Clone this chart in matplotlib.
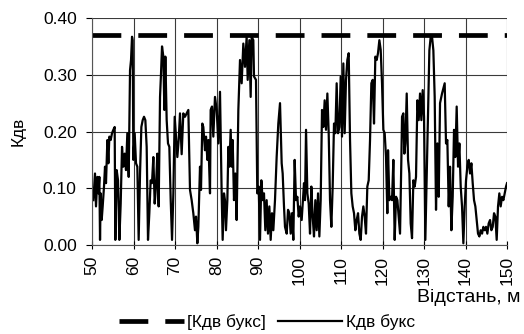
import numpy as np
import matplotlib
matplotlib.use("Agg")
import matplotlib.pyplot as plt

plt.rcParams['font.family'] = ['Liberation Sans', 'DejaVu Sans']

# ---- data ----
x_dist = [50.32, 50.72, 50.96, 51.29, 51.53, 51.77, 51.93, 52.09, 52.33, 52.57,
          52.89, 53.13, 53.37, 53.70, 53.94, 54.18, 54.50, 54.82, 55.14, 55.46,
          55.62, 55.94, 56.27, 56.59, 56.91, 57.23, 57.55, 57.87, 58.19, 58.51,
          58.84, 59.16, 59.40, 59.64, 59.80, 59.96, 60.28, 60.60, 60.92, 61.24,
          61.57, 61.89, 62.21, 62.53, 62.85, 63.17, 63.49, 63.81, 64.13, 64.45,
          64.78, 65.10, 65.42, 65.74, 66.06, 66.39, 66.63, 66.87, 67.19, 67.43,
          67.67, 67.99, 68.31, 68.63, 68.96, 69.28, 69.60, 69.92, 70.24, 70.56,
          70.88, 71.20, 71.60, 72.00, 72.40, 72.81, 73.21, 73.61, 74.01, 74.41,
          74.81, 75.06, 75.38, 75.62, 76.02, 76.26, 76.58, 76.82, 77.22, 77.47,
          77.79, 78.03, 78.43, 78.59, 78.91, 79.23, 79.63, 80.04, 80.44, 80.84,
          81.24, 81.48, 81.80, 82.04, 82.28, 82.61, 82.85, 83.09, 83.41, 83.65,
          83.89, 84.21, 84.53, 84.85, 85.26, 85.66, 86.06, 86.46, 86.86, 87.26,
          87.51, 87.91, 88.23, 88.47, 88.87, 89.03, 89.51, 89.83, 90.16, 90.48,
          90.80, 91.12, 91.44, 91.76, 92.08, 92.40, 92.73, 93.05, 93.37, 93.69,
          94.09, 94.49, 94.89, 95.30, 95.70, 95.94, 96.26, 96.50, 96.91, 97.23,
          97.55, 97.87, 98.19, 98.51, 98.83, 99.16, 99.48, 99.80, 100.12, 100.52,
          100.76, 101.08, 101.32, 101.57, 101.89, 102.21, 102.53, 102.85, 103.17, 103.49,
          103.81, 104.14, 104.46, 104.78, 105.10, 105.42, 105.74, 106.06, 106.38, 106.71,
          107.03, 107.35, 107.67, 107.99, 108.31, 108.63, 108.95, 109.28, 109.60, 109.92,
          110.24, 110.56, 110.88, 111.20, 111.52, 111.85, 112.17, 112.49, 112.81, 113.13,
          113.45, 113.77, 114.10, 114.42, 114.74, 115.06, 115.38, 115.70, 116.02, 116.34,
          116.67, 116.99, 117.31, 117.63, 117.95, 118.27, 118.59, 118.91, 119.24, 119.56,
          119.88, 120.20, 120.52, 120.84, 121.16, 121.33, 121.65, 121.97, 122.29, 122.61,
          122.93, 123.26, 123.58, 123.90, 124.22, 124.54, 124.70, 125.02, 125.26, 125.50,
          125.83, 126.15, 126.47, 126.79, 127.11, 127.43, 127.75, 128.07, 128.40, 128.72,
          129.04, 129.36, 129.68, 130.00, 130.32, 130.65, 130.97, 131.29, 131.61, 131.93,
          132.25, 132.57, 132.89, 133.22, 133.54, 133.86, 134.34, 134.66, 134.98, 135.30,
          135.62, 135.95, 136.27, 136.59, 136.91, 137.23, 137.55, 137.87, 138.20, 138.52,
          138.84, 139.16, 139.48, 139.80, 140.12, 140.44, 140.77, 141.09, 141.41, 141.73,
          142.05, 142.37, 142.69, 143.01, 143.34, 143.66, 143.98, 144.30, 144.62, 144.94,
          145.26, 145.58, 145.91, 146.23, 146.55, 146.87, 147.19, 147.51, 147.83, 148.15,
          148.47, 148.80, 149.12, 149.44, 149.76, 150.00]

k_dv = [0.079, 0.126, 0.068, 0.120, 0.091, 0.120, 0.009, 0.091, 0.044, 0.068,
        0.103, 0.138, 0.109, 0.185, 0.144, 0.191, 0.185, 0.197, 0.203, 0.208,
        0.009, 0.132, 0.114, 0.009, 0.073, 0.173, 0.138, 0.161, 0.132, 0.197,
        0.120, 0.308, 0.326, 0.367, 0.361, 0.150, 0.197, 0.144, 0.138, 0.009,
        0.126, 0.208, 0.220, 0.226, 0.220, 0.173, 0.009, 0.056, 0.114, 0.109,
        0.155, 0.073, 0.103, 0.161, 0.068, 0.261, 0.303, 0.350, 0.332, 0.238,
        0.332, 0.220, 0.179, 0.173, 0.079, 0.009, 0.091, 0.226, 0.191, 0.155,
        0.185, 0.232, 0.160, 0.232, 0.226, 0.232, 0.238, 0.097, 0.079, 0.056,
        0.026, 0.050, 0.003, 0.032, 0.138, 0.097, 0.214, 0.208, 0.167, 0.191,
        0.150, 0.185, 0.091, 0.238, 0.244, 0.191, 0.261, 0.238, 0.179, 0.270,
        0.091, 0.009, 0.091, 0.079, 0.026, 0.079, 0.173, 0.138, 0.203, 0.138,
        0.185, 0.079, 0.126, 0.044, 0.238, 0.326, 0.285, 0.355, 0.314, 0.367,
        0.291, 0.361, 0.261, 0.367, 0.361, 0.297, 0.291, 0.091, 0.103, 0.009,
        0.114, 0.079, 0.091, 0.026, 0.079, 0.020, 0.068, 0.009, 0.056, 0.026,
        0.079, 0.155, 0.214, 0.250, 0.144, 0.126, 0.068, 0.032, 0.020, 0.062,
        0.056, 0.020, 0.056, 0.009, 0.150, 0.079, 0.085, 0.050, 0.068, 0.044,
        0.073, 0.109, 0.079, 0.203, 0.091, 0.073, 0.020, 0.103, 0.050, 0.015,
        0.079, 0.026, 0.091, 0.015, 0.079, 0.238, 0.208, 0.255, 0.203, 0.267,
        0.197, 0.079, 0.032, 0.103, 0.214, 0.197, 0.285, 0.197, 0.208, 0.297,
        0.191, 0.320, 0.197, 0.291, 0.326, 0.338, 0.185, 0.091, 0.068, 0.056,
        0.026, 0.044, 0.056, 0.020, 0.009, 0.050, 0.068, 0.050, 0.020, 0.103,
        0.114, 0.185, 0.285, 0.291, 0.214, 0.332, 0.326, 0.338, 0.361, 0.344,
        0.285, 0.203, 0.197, 0.155, 0.056, 0.167, 0.079, 0.085, 0.079, 0.150,
        0.009, 0.085, 0.079, 0.050, 0.020, 0.150, 0.226, 0.232, 0.161, 0.179,
        0.267, 0.150, 0.126, 0.038, 0.012, 0.114, 0.103, 0.120, 0.255, 0.220,
        0.267, 0.220, 0.273, 0.226, 0.009, 0.120, 0.226, 0.343, 0.367, 0.367,
        0.343, 0.261, 0.062, 0.179, 0.085, 0.250, 0.267, 0.276, 0.285, 0.179,
        0.185, 0.068, 0.138, 0.026, 0.085, 0.203, 0.155, 0.244, 0.138, 0.179,
        0.103, 0.068, 0.003, 0.068, 0.114, 0.138, 0.150, 0.126, 0.144, 0.109,
        0.079, 0.068, 0.044, 0.020, 0.015, 0.026, 0.020, 0.032, 0.026, 0.032,
        0.020, 0.038, 0.044, 0.026, 0.032, 0.056, 0.050, 0.009, 0.068, 0.091,
        0.068, 0.085, 0.079, 0.091, 0.103, 0.109]

k_limit = 0.37
x_range = [50, 150]
x_ticks = list(range(50, 151, 10))
y_ticks = [0.0, 0.1, 0.2, 0.3, 0.4]

fig = plt.figure(figsize=(5.24, 3.34), dpi=100)
ax = fig.add_axes([0.1756, 0.2665, 0.792, 0.6795])

# dashed limit line
ax.plot(x_range, [k_limit, k_limit], color='black', linewidth=3.4,
        dashes=(6.1, 3.6), dash_capstyle='butt', label='[Кдв букс]')
# measured curve
ax.plot(x_dist, k_dv, color='black', linewidth=1.6, label='Кдв букс')

ax.set_xlim(50, 150)
ax.set_ylim(0, 0.40)
ax.set_xticks(x_ticks)
ax.set_yticks(y_ticks)
ax.set_yticklabels(['%.2f' % v for v in y_ticks])
ax.tick_params(axis='x', labelrotation=90, direction='inout', length=6, pad=5,
               labelsize=12.5)
ax.tick_params(axis='y', direction='out', length=4, pad=7, labelsize=12.5)

ax.grid(True, color='#3a3a3a', linewidth=0.8)
ax.spines['top'].set_visible(False)
ax.spines['right'].set_visible(False)
ax.spines['left'].set_color('#555555')
ax.spines['bottom'].set_color('#555555')

fig.text(18 / 524, 1 - 131 / 334, 'Кдв', rotation=90, ha='center', va='center',
         fontsize=12.5)
fig.text(0.993, 1 - 297 / 334, 'Відстань, м', ha='right', va='center',
         fontsize=14)

fig.legend(loc='center', bbox_to_anchor=(0.51, 1 - 322 / 334), ncol=2,
           frameon=False, fontsize=12.5, handlelength=3.7, handletextpad=0.2,
           columnspacing=0.7, borderpad=0)

fig.savefig('out.png', dpi=100)
